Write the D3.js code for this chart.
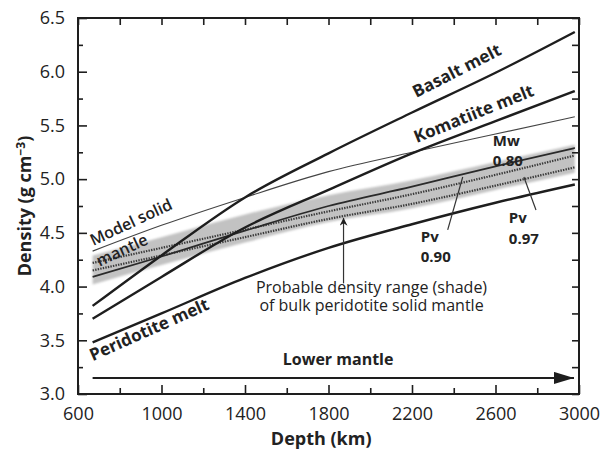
<!DOCTYPE html>
<html>
<head>
<meta charset="utf-8">
<script src="https://cdn.jsdelivr.net/npm/d3@7"></script>
<style>
body { margin: 0; background: #fff; }
svg { font-family: "Open Sans", sans-serif; }
</style>
</head>
<body>
<svg width="605" height="450"></svg>
<script>
// values (depth in km, density in g/cm3)
var depth = [670, 1000, 1400, 1800, 2200, 2600, 2980];
var basaltMelt = [3.82, 4.29, 4.83, 5.24, 5.62, 5.99, 6.37];
var komatiiteMelt = [3.70, 4.09, 4.55, 4.90, 5.24, 5.54, 5.82];
var peridotiteMelt = [3.48, 3.75, 4.08, 4.36, 4.58, 4.78, 4.95];
var modelSolid = [4.33, 4.57, 4.83, 5.07, 5.25, 5.42, 5.58];
var shadeTop = [4.29, 4.46, 4.67, 4.85, 4.99, 5.16, 5.32];
var shadeBottom = [4.02, 4.20, 4.41, 4.60, 4.73, 4.90, 5.06];
var mw080 = [4.09, 4.28, 4.52, 4.75, 4.93, 5.12, 5.29];
var pv090 = [4.22, 4.36, 4.53, 4.70, 4.86, 5.04, 5.22];
var pv097 = [4.15, 4.29, 4.46, 4.63, 4.77, 4.94, 5.11];

var xTicks = [600, 1000, 1400, 1800, 2200, 2600, 3000];
var xMinor = [800, 1200, 1600, 2000, 2400, 2800];
var yTicks = [3.0, 3.5, 4.0, 4.5, 5.0, 5.5, 6.0, 6.5];
var yMinor = [3.25, 3.75, 4.25, 4.75, 5.25, 5.75, 6.25];

var svg = d3.select("svg"),
    margin = {top: 18, right: 26, bottom: 56, left: 78},
    width = 605 - margin.left - margin.right,
    height = 450 - margin.top - margin.bottom;

var g = svg.append("g").attr("transform", "translate(" + margin.left + "," + margin.top + ")");

var x = d3.scaleLinear().domain([600, 3000]).range([0, width]),
    y = d3.scaleLinear().domain([3.0, 6.5]).range([height, 0]);

var ink = "#1e1e1e";

// defs: blur for the shade, arrow heads
var defs = svg.append("defs");
defs.append("filter").attr("id", "soft")
    .append("feGaussianBlur").attr("stdDeviation", 1.3);
defs.append("marker")
    .attr("id", "headBig")
    .attr("viewBox", "0 0 20 12")
    .attr("refX", 20).attr("refY", 6)
    .attr("markerWidth", 20).attr("markerHeight", 12)
    .attr("markerUnits", "userSpaceOnUse")
    .attr("orient", "auto")
    .append("path").attr("d", "M0,0L20,6L0,12Z").attr("fill", ink);
defs.append("marker")
    .attr("id", "headSmall")
    .attr("viewBox", "0 0 8 11")
    .attr("refX", 8).attr("refY", 4)
    .attr("markerWidth", 8).attr("markerHeight", 11)
    .attr("markerUnits", "userSpaceOnUse")
    .attr("orient", "auto")
    .append("path").attr("d", "M0,0L8,4L0,8L2.5,4Z").attr("fill", ink);

function pts(vals) {
    return vals.map(function(v, i) { return [depth[i], v]; });
}

var line = d3.line()
    .curve(d3.curveMonotoneX)
    .x(function(d) { return x(d[0]); })
    .y(function(d) { return y(d[1]); });

var area = d3.area()
    .curve(d3.curveMonotoneX)
    .x(function(d, i) { return x(depth[i]); })
    .y0(function(d, i) { return y(shadeBottom[i]); })
    .y1(function(d, i) { return y(shadeTop[i]); });

// shaded density range
g.append("path")
    .datum(depth)
    .attr("d", area)
    .attr("fill", "#c2c2c2")
    .attr("filter", "url(#soft)");

// dotted Pv lines inside the shade
[pv090, pv097].forEach(function(s) {
    g.append("path")
        .datum(pts(s))
        .attr("d", line)
        .attr("fill", "none")
        .attr("stroke", "#3a3a3a")
        .attr("stroke-width", 2.2)
        .attr("stroke-dasharray", "1.4,1.2");
});

// Mw 0.80
g.append("path")
    .datum(pts(mw080))
    .attr("d", line)
    .attr("fill", "none")
    .attr("stroke", "#2a2a2a")
    .attr("stroke-width", 1.8);

// model solid mantle (thin)
g.append("path")
    .datum(pts(modelSolid))
    .attr("d", line)
    .attr("fill", "none")
    .attr("stroke", "#444")
    .attr("stroke-width", 1.1);

// melts
[basaltMelt, komatiiteMelt, peridotiteMelt].forEach(function(s) {
    g.append("path")
        .datum(pts(s))
        .attr("d", line)
        .attr("fill", "none")
        .attr("stroke", ink)
        .attr("stroke-width", 2.4);
});

// frame
g.append("rect")
    .attr("width", width).attr("height", height)
    .attr("fill", "none").attr("stroke", ink).attr("stroke-width", 2);

// ticks, pointing inward on all four sides
function tickAxis(axis, vals, size, tr, labels, pad) {
    var a = g.append("g")
        .attr("transform", tr)
        .call(axis.tickValues(vals).tickSize(size).tickPadding(pad || 0)
            .tickFormat(labels ? labels : function() { return ""; }));
    a.select(".domain").remove();
    a.selectAll("line").attr("stroke", ink).attr("stroke-width", 1.6);
    a.selectAll("text").attr("fill", "#222").style("font-size", "18px").style("font-family", "Open Sans, sans-serif");
    return a;
}
tickAxis(d3.axisBottom(x), xTicks, -9, "translate(0," + height + ")", d3.format("d"), 13);
tickAxis(d3.axisBottom(x), xMinor, -6, "translate(0," + height + ")");
tickAxis(d3.axisTop(x), xTicks, -7, "translate(0,0)");
tickAxis(d3.axisTop(x), xMinor, -7, "translate(0,0)");
tickAxis(d3.axisLeft(y), yTicks, -9, "translate(0,0)", d3.format(".1f"), 13);
tickAxis(d3.axisLeft(y), yMinor, -5, "translate(0,0)");
tickAxis(d3.axisRight(y), yTicks, -7, "translate(" + width + ",0)");
tickAxis(d3.axisRight(y), yMinor, -7, "translate(" + width + ",0)");

// axis titles
g.append("text")
    .attr("x", x(1765)).attr("y", height + 51)
    .attr("text-anchor", "middle")
    .style("font-size", "18px").style("font-weight", 700)
    .attr("fill", "#222")
    .text("Depth (km)");

var yl = g.append("text")
    .attr("transform", "translate(-47," + (height / 2) + ") rotate(-90)")
    .attr("text-anchor", "middle")
    .style("font-size", "18px").style("font-weight", 700)
    .attr("fill", "#222");
yl.append("tspan").text("Density (g cm");
yl.append("tspan").attr("dy", "-0.5em").style("font-size", "12px").text("\u22123");
yl.append("tspan").attr("dy", "0.35em").text(")");

// curve labels, rotated along the lines
function label(txt, km, v, rot, size, weight) {
    g.append("text")
        .attr("transform", "translate(" + x(km) + "," + y(v) + ") rotate(" + rot + ")")
        .attr("text-anchor", "middle")
        .attr("dy", "0.35em")
        .style("font-size", size + "px")
        .style("font-weight", weight)
        .attr("fill", "#222")
        .text(txt);
}
label("Basalt melt", 2414, 6.01, -27, 17, 700);
label("Komatiite melt", 2496, 5.61, -22, 17, 700);
label("Peridotite melt", 941, 3.60, -24, 17, 700);
label("Model solid", 854, 4.60, -25, 16, 600);
label("mantle", 811, 4.34, -25, 16, 600);

// Mw / Pv labels
function stacked(l1, l2, km, v1, v2) {
    [[l1, v1], [l2, v2]].forEach(function(p) {
        g.append("text")
            .attr("x", x(km)).attr("y", y(p[1]))
            .style("font-size", "15px").style("font-weight", 700)
            .attr("fill", "#222")
            .text(p[0]);
    });
}
stacked("Mw", "0.80", 2587, 5.31, 5.12);
stacked("Pv", "0.90", 2242, 4.415, 4.229);
stacked("Pv", "0.97", 2664, 4.59, 4.40);

// pointer lines
[[2371, 4.527, 2443, 5.02], [2794, 4.713, 2736, 5.02]].forEach(function(p) {
    g.append("line")
        .attr("x1", x(p[0])).attr("y1", y(p[1]))
        .attr("x2", x(p[2])).attr("y2", y(p[3]))
        .attr("stroke", "#333").attr("stroke-width", 1.2);
});

// arrow to the shade
g.append("line")
    .attr("x1", x(1872)).attr("y1", y(4.03))
    .attr("x2", x(1872)).attr("y2", y(4.64))
    .attr("stroke", "#333").attr("stroke-width", 1.2)
    .attr("marker-end", "url(#headSmall)");

var note = g.append("text")
    .attr("text-anchor", "middle")
    .style("font-size", "16px")
    .attr("fill", "#222");
note.append("tspan").attr("x", x(2006)).attr("y", y(3.94)).text("Probable density range (shade)");
note.append("tspan").attr("x", x(2006)).attr("y", y(3.77)).text("of bulk peridotite solid mantle");

// lower mantle arrow
g.append("line")
    .attr("x1", x(670)).attr("y1", y(3.15))
    .attr("x2", x(2976)).attr("y2", y(3.15))
    .attr("stroke", ink).attr("stroke-width", 2)
    .attr("marker-end", "url(#headBig)");
g.append("text")
    .attr("x", x(1846)).attr("y", y(3.27))
    .attr("text-anchor", "middle")
    .style("font-size", "16px").style("font-weight", 700)
    .attr("fill", "#222")
    .text("Lower mantle");
</script>
</body>
</html>
